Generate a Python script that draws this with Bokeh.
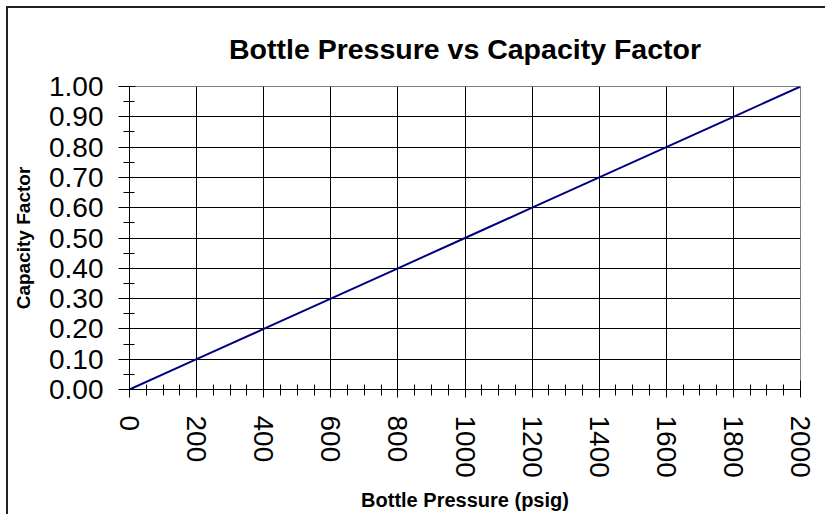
from bokeh.plotting import figure
from bokeh.models import FixedTicker, NumeralTickFormatter, Range1d
from bokeh.embed import file_html
from bokeh.resources import INLINE

pressure = [0, 200, 400, 600, 800, 1000, 1200, 1400, 1600, 1800, 2000]
capacity = [0.0, 0.1, 0.2, 0.3, 0.4, 0.5, 0.6, 0.7, 0.8, 0.9, 1.0]
x_ticks = [0, 200, 400, 600, 800, 1000, 1200, 1400, 1600, 1800, 2000]
x_minor = [v for v in range(0, 2001, 50)]
y_ticks = [0.0, 0.1, 0.2, 0.3, 0.4, 0.5, 0.6, 0.7, 0.8, 0.9, 1.0]
y_minor = [i * 0.05 for i in range(21)]

FONT = "Liberation Sans"

p = figure(width=819, height=508, output_backend="svg", toolbar_location=None,
           x_range=Range1d(0, 2000), y_range=Range1d(0, 1),
           min_border_left=121, min_border_right=27, min_border_top=78, min_border_bottom=127,
           title="Bottle Pressure vs Capacity Factor")
p.styles = {"border-left": "2px solid #222", "border-top": "2px solid #222",
            "margin-left": "6px", "margin-top": "6px"}

p.title.align = "center"
p.title.text_font = FONT
p.title.text_font_size = "28.5px"
p.title.text_font_style = "bold"
p.title.text_color = "black"
p.title.standoff = 44

p.line(pressure, capacity, line_color="#000080", line_width=2)

p.xaxis.ticker = FixedTicker(ticks=x_ticks, minor_ticks=x_minor)
p.yaxis.ticker = FixedTicker(ticks=y_ticks, minor_ticks=y_minor)
p.yaxis.formatter = NumeralTickFormatter(format="0.00")

for ax in (p.xaxis, p.yaxis):
    ax.axis_line_color = "black"
    ax.major_tick_line_color = "black"
    ax.minor_tick_line_color = "black"
    ax.major_label_text_font = FONT
    ax.major_label_text_font_size = "28px"
    ax.major_label_text_color = "black"
    ax.axis_label_text_font = FONT
    ax.axis_label_text_font_style = "bold"
    ax.axis_label_text_color = "black"

p.xaxis.axis_label = "Bottle Pressure (psig)"
p.xaxis.axis_label_text_font_size = "20px"
p.xaxis.major_label_orientation = "vertical"
p.xaxis.major_tick_in = 9
p.xaxis.major_tick_out = 8
p.xaxis.minor_tick_in = 5
p.xaxis.minor_tick_out = 6
p.xaxis.major_label_standoff = 18
p.xaxis.axis_label_standoff = 8

p.yaxis.axis_label = "Capacity Factor"
p.yaxis.axis_label_text_font_size = "19px"
p.yaxis.major_tick_in = 6
p.yaxis.major_tick_out = 11
p.yaxis.minor_tick_in = 5
p.yaxis.minor_tick_out = 6
p.yaxis.major_label_standoff = 15
p.yaxis.axis_label_standoff = 12

p.xgrid.ticker = FixedTicker(ticks=x_ticks)
p.ygrid.ticker = FixedTicker(ticks=y_ticks)
p.grid.grid_line_color = "black"
p.grid.grid_line_alpha = 1.0
p.grid.grid_line_width = 1

p.outline_line_color = "#808080"
p.outline_line_width = 1
p.background_fill_color = "white"
p.border_fill_color = "white"

open("out.html", "w").write(file_html(p, INLINE))
